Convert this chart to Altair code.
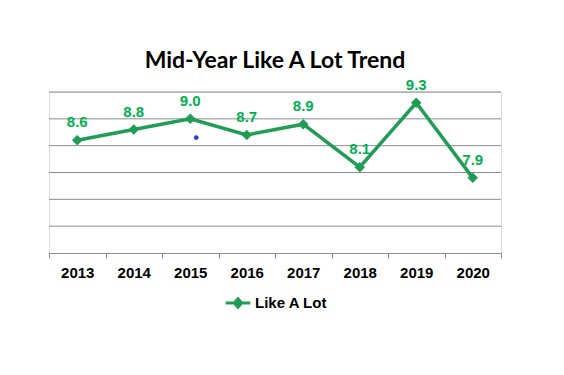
import altair as alt
import pandas as pd

years = ["2013", "2014", "2015", "2016", "2017", "2018", "2019", "2020"]
values = [8.6, 8.8, 9.0, 8.7, 8.9, 8.1, 9.3, 7.9]
series = ["Like A Lot"] * len(years)
labels = ["8.6", "8.8", "9.0", "8.7", "8.9", "8.1", "9.3", "7.9"]
grid_values = [7.0, 7.5, 8.0, 8.5, 9.0, 9.5]

stray_year = ["2015"]
stray_value = [8.65]

df = pd.DataFrame({"year": years, "value": values, "series": series, "label": labels})
df_grid = pd.DataFrame({"g": grid_values})
df_stray = pd.DataFrame({"year": stray_year, "value": stray_value})

LINE_GREEN = "#1f9d55"
LABEL_GREEN = "#00b050"
GRID = "#8c8c8c"

yscale = alt.Scale(domain=[6.5, 9.5], nice=False, zero=False)

xenc = alt.X(
    "year:N",
    sort=years,
    title=None,
    scale=alt.Scale(type="band", paddingInner=0, paddingOuter=0),
    axis=alt.Axis(
        labelAngle=0,
        labelFont="Liberation Sans",
        labelFontWeight="bold",
        labelFontSize=15,
        labelColor="#000000",
        labelPadding=7,
        tickBand="extent",
        tickSize=5,
        tickColor=GRID,
        domainColor=GRID,
        grid=False,
    ),
)
yenc = alt.Y("value:Q", title=None, scale=yscale, axis=None)

grid = alt.Chart(df_grid).mark_rule(color=GRID, strokeWidth=1).encode(
    y=alt.Y("g:Q", scale=yscale, axis=None)
)

legend_path = "M-1,0L1,0M0,-0.34L0.3,0L0,0.34L-0.3,0Z"

line = alt.Chart(df).mark_line(
    strokeWidth=3.5,
    point=alt.OverlayMarkDef(shape="diamond", size=110, filled=True, color=LINE_GREEN),
).encode(
    x=xenc,
    y=yenc,
    color=alt.Color(
        "series:N",
        scale=alt.Scale(range=[LINE_GREEN]),
        legend=alt.Legend(
            title=None,
            orient="none",
            legendX=175,
            legendY=197,
            symbolType=legend_path,
            symbolSize=600,
            symbolStrokeWidth=3,
            symbolFillColor=LINE_GREEN,
            symbolStrokeColor=LINE_GREEN,
            labelFont="Liberation Sans",
            labelFontWeight="bold",
            labelFontSize=15,
            labelColor="#000000",
            labelOffset=3,
            padding=0,
        ),
    ),
)

text = alt.Chart(df).mark_text(
    dy=-18,
    font="Liberation Sans",
    fontWeight="bold",
    fontSize=15,
    color=LABEL_GREEN,
).encode(x=alt.X("year:N", sort=years), y="value:Q", text="label:N")

stray = alt.Chart(df_stray).mark_point(
    filled=True, size=22, color="#2b3be0", opacity=1, xOffset=6
).encode(x=alt.X("year:N", sort=years), y="value:Q")

chart = (
    alt.layer(grid, line, text, stray)
    .properties(
        width=452,
        height=161,
        autosize=alt.AutoSizeParams(type="none"),
        padding={"left": 41, "top": 84, "right": 40, "bottom": 100},
        title=alt.TitleParams(
            "Mid-Year Like A Lot Trend",
            font="Lato",
            fontWeight="bold",
            fontSize=23,
            color="#000000",
            anchor="middle",
            offset=5,
        ),
    )
    .configure_view(stroke=None)
    .configure(background="#ffffff")
)

chart.save("out.html", embed_options={"renderer": "svg", "actions": False})
